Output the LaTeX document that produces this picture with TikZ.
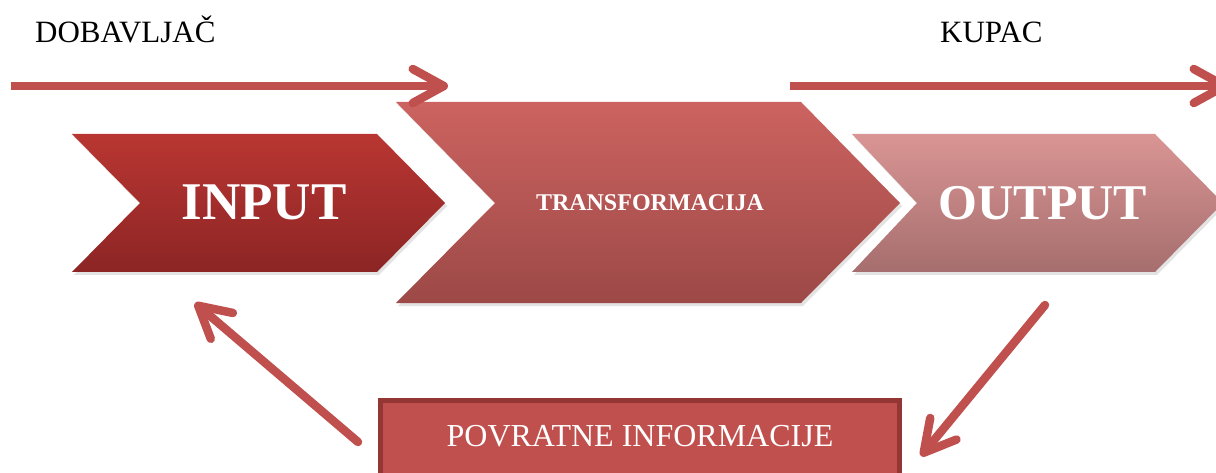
\documentclass[tikz,border=0pt]{standalone}
\usepackage{fontspec}
\setmainfont{Liberation Serif}
\usetikzlibrary{arrows.meta,shadows}
\definecolor{arr}{HTML}{C0504D}
\definecolor{boxfill}{HTML}{C0504D}
\definecolor{boxline}{HTML}{943634}
\definecolor{inTop}{HTML}{B93632}
\definecolor{inBot}{HTML}{8C2525}
\definecolor{trTop}{HTML}{CC6360}
\definecolor{trBot}{HTML}{9C4947}
\definecolor{outTop}{HTML}{D99594}
\definecolor{outBot}{HTML}{A66E6E}
\begin{document}
\begin{tikzpicture}[x=1pt,y=-1pt,
  conn/.style={draw=arr, line width=8.5pt, -{Straight Barb[length=31pt,width=34pt,round]},
    preaction={draw=black, draw opacity=0.18, transform canvas={xshift=1.5pt,yshift=-2.5pt}}},
  chev/.style={drop shadow={opacity=0.22,shadow xshift=2pt,shadow yshift=-3pt}},
  lbl/.style={text=white, inner sep=0pt, anchor=base},
  toplbl/.style={text=black, inner sep=0pt, anchor=base west, font=\fontsize{31}{36}\selectfont}]
\useasboundingbox (0,0) rectangle (1216,473);
\clip (0,0) rectangle (1216,473);

% chevrons
\path[chev, top color=inTop, bottom color=inBot]
  (72,134) -- (377,134) -- (445,203) -- (377,272) -- (72,272) -- (140,203) -- cycle;
\path[chev, top color=trTop, bottom color=trBot]
  (396,102) -- (801,102) -- (900,203) -- (801,303) -- (396,303) -- (495,203) -- cycle;
\path[chev, top color=outTop, bottom color=outBot]
  (852,134) -- (1155,134) -- (1223,203) -- (1155,272) -- (852,272) -- (917,203) -- cycle;

\node[lbl, font=\bfseries\fontsize{53}{60}\selectfont] (input) at (264,220) {INPUT};
\node[lbl, font=\bfseries\fontsize{24}{28}\selectfont] (trans) at (650,211) {TRANSFORMACIJA};
\node[lbl, font=\bfseries\fontsize{50}{58}\selectfont] (output) at (1043,220) {OUTPUT};

% feedback box
\path[drop shadow={opacity=0.2,shadow xshift=2pt,shadow yshift=-3pt},
      fill=boxfill, draw=boxline, line width=5pt] (380.5,400.5) rectangle (899.5,500);
\node[lbl, font=\fontsize{32}{38}\selectfont] (feedback) at (640,446) {POVRATNE INFORMACIJE};

% top labels
\node[toplbl] (dobavljac) at (35,43) {DOBAVLJAČ};
\node[toplbl] (kupac) at (940,43) {KUPAC};

% arrows
\coordinate (a1s) at (11,86);
\coordinate (a1e) at (448,86);
\coordinate (a2s) at (790,86);
\coordinate (a2e) at (1229,86);
\coordinate (a3s) at (358,442);
\coordinate (a3e) at (195,303);
\coordinate (a4s) at (1045,305);
\coordinate (a4e) at (921,456);
\draw[conn] (a1s) -- (a1e);
\draw[conn] (a2s) -- (a2e);
\draw[conn, line cap=round] (a3s) -- (a3e);
\draw[conn, line cap=round] (a4s) -- (a4e);
\end{tikzpicture}
\end{document}
